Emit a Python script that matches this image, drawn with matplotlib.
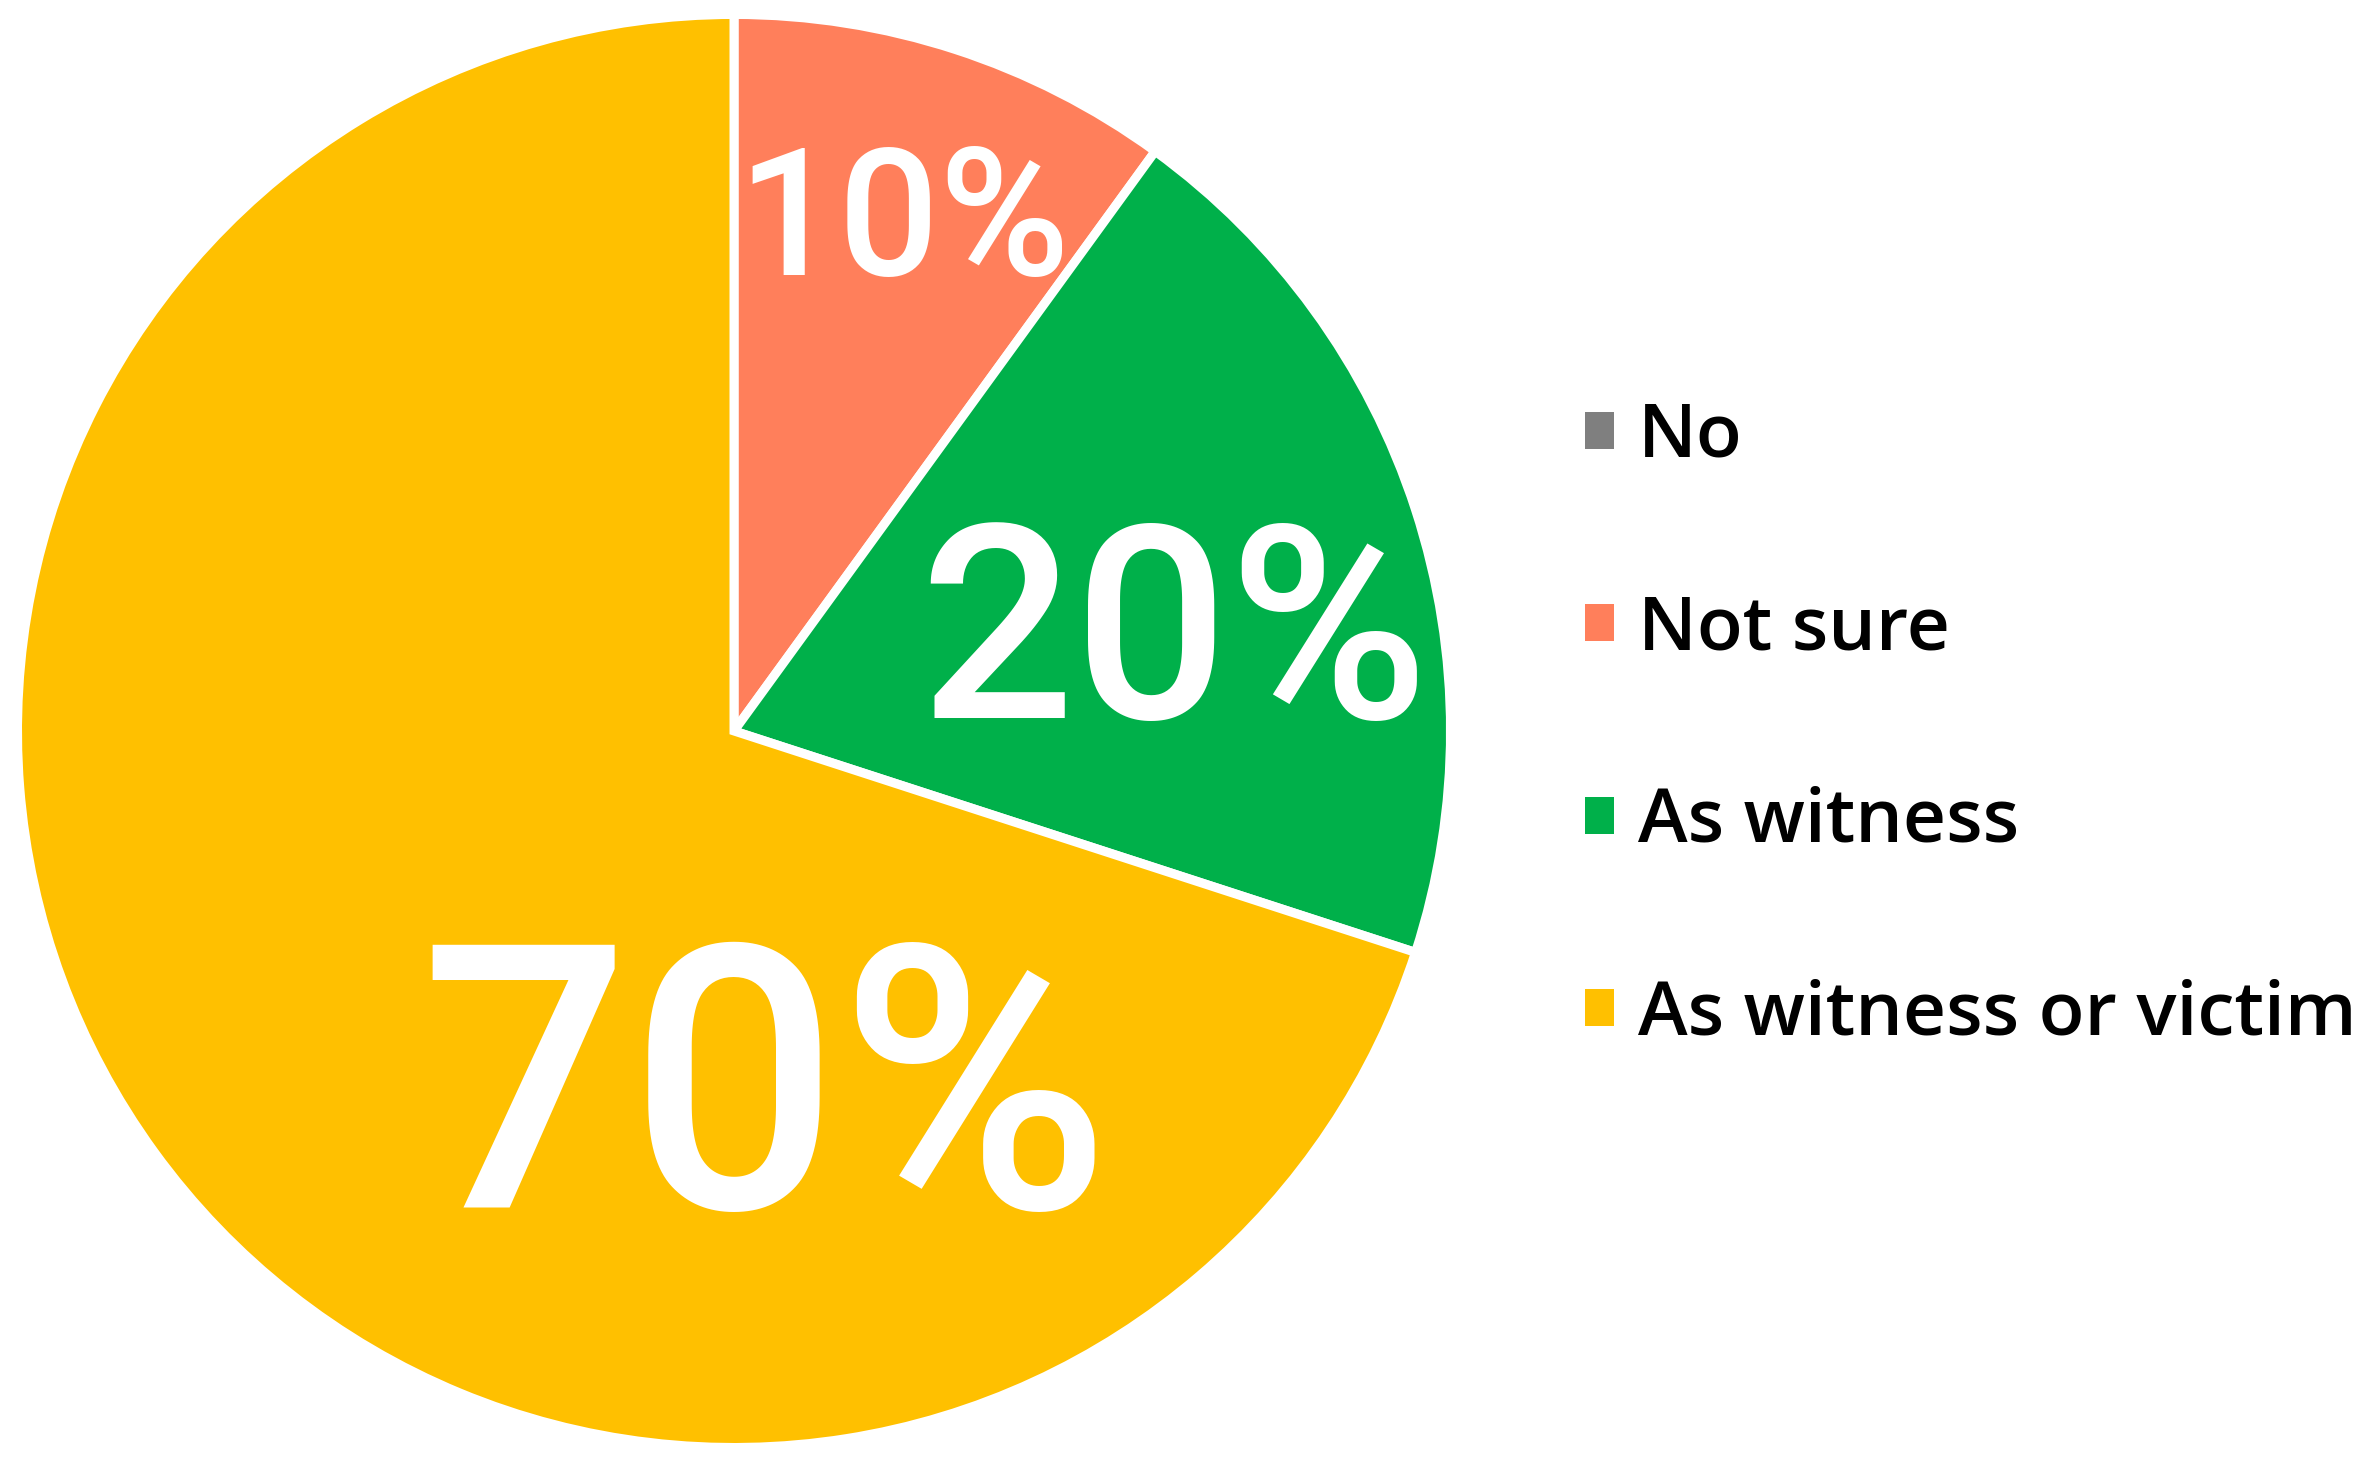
import numpy as np
import matplotlib
matplotlib.use("Agg")
import matplotlib.pyplot as plt
from matplotlib.patches import Patch

# Données du graphique
categories = ["No", "Not sure", "As witness", "As witness or victim"]
values = [0, 10, 20, 70]
colors = ["#7F7F7F", "#FF7F5B", "#00B04A", "#FFC000"]

# Style des étiquettes : taille, distance au centre, décalage d'angle
label_sizes = [0, 128, 196, 266]
label_dist = [0, 0.767, 0.635, 0.475]
label_shift = [0, 0, -3.3, 59.2]

fig = plt.figure(figsize=(23.71, 14.68), dpi=100)
ax = fig.add_axes([0.00738, 0.01396, 0.6044, 0.9762])

wedges, texts = ax.pie(values, colors=colors, startangle=90, counterclock=False,
                       wedgeprops=dict(edgecolor="white", linewidth=6.5))
ax.set_xlim(-1, 1)
ax.set_ylim(-1, 1)
ax.set_aspect("equal")
ax.axis("off")

for w, v, size, d, shift in zip(wedges, values, label_sizes, label_dist, label_shift):
    if v == 0:
        continue
    ang = np.deg2rad((w.theta1 + w.theta2) / 2 + shift)
    ax.text(d * np.cos(ang), d * np.sin(ang), f"{v}%", color="white",
            fontsize=size, fontweight="medium", ha="center", va="center_baseline",
            family="Roboto")

handles = [Patch(facecolor=c, edgecolor="none") for c in colors]
fig.legend(handles, categories, loc="center left", bbox_to_anchor=(0.6685, 0.505),
           frameon=False, borderpad=0, borderaxespad=0, handlelength=0.38,
           handleheight=0.38, handletextpad=0.33, labelspacing=1.58,
           prop=dict(family="Open Sans", size=54, weight="semibold"))

fig.savefig("out.png", dpi=100, facecolor="white")
